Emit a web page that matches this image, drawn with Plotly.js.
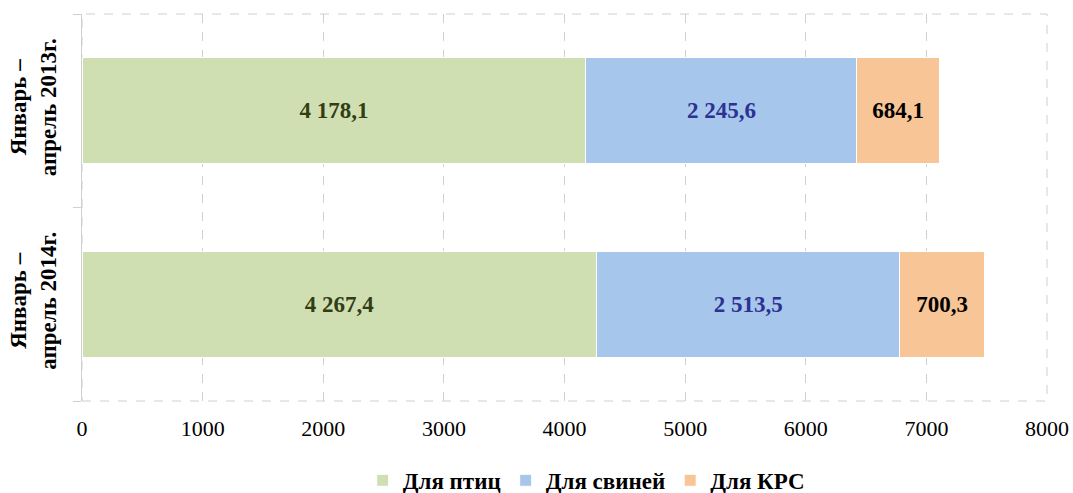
<!DOCTYPE html>
<html><head><meta charset="utf-8">
<script src="https://cdn.plot.ly/plotly-3.0.1.min.js"></script>
<style>body{margin:0;background:#fff}#chart{width:1073px;height:493px}</style>
</head><body><div id="chart"></div>
<script>
const categories = ["Январь –<br>апрель 2014г.", "Январь –<br>апрель 2013г."];
const birds = [4267.4, 4178.1];
const pigs = [2513.5, 2245.6];
const cattle = [700.3, 684.1];
const birdLabels = ["4 267,4", "4 178,1"];
const pigLabels = ["2 513,5", "2 245,6"];
const cattleLabels = ["700,3", "684,1"];
const seriesNames = ["Для птиц", "Для свиней", "Для КРС"];
const xTicks = [0,1000,2000,3000,4000,5000,6000,7000,8000];

const font = "'Liberation Serif', 'Times New Roman', serif";
function tr(vals, labels, name, color, lineColor, txtColor){
  return {type:'bar', orientation:'h', y:categories, x:vals, name:name,
    text:labels, texttemplate:'%{text}', textposition:'inside', insidetextanchor:'middle',
    textangle:0, constraintext:'none',
    textfont:{family:font, size:23, color:txtColor, weight:'bold'},
    marker:{color:color, line:{color:lineColor, width:1}}, width:0.55, hoverinfo:'none'};
}
const data = [
  tr(birds, birdLabels, seriesNames[0], '#d0dfb2', '#ffffff', '#333d14'),
  tr(pigs, pigLabels, seriesNames[1], '#a6c6ec', '#ffffff', '#2e3192'),
  tr(cattle, cattleLabels, seriesNames[2], '#f8c596', '#ffffff', '#000000')
];
const layout = {
  width:1073, height:493, barmode:'stack',
  margin:{l:82, r:26, t:14, b:92, autoexpand:false},
  paper_bgcolor:'#fff', plot_bgcolor:'#fff',
  font:{family:font, size:22, color:'#000'},
  xaxis:{range:[0,8000], tickvals:xTicks, ticktext:xTicks.map(String),
    showgrid:true, gridcolor:'#d0d0d0', griddash:'dash', gridwidth:1,
    zeroline:false, showline:false, ticks:'', tickfont:{family:font,size:22,color:'#000'}, ticklabelstandoff:12},
  yaxis:{type:'category', tickson:'boundaries', ticks:'outside', ticklen:8, tickcolor:'#d0d0d0',
    showline:true, linecolor:'#d0d0d0', linewidth:1, showgrid:false, tickangle:-90, ticklabelstandoff:16,
    tickfont:{family:font, size:23, color:'#000', weight:'bold'}},
  legend:{orientation:'h', x:0.523, xanchor:'center', y:-0.205, yanchor:'middle',
    font:{family:font, size:23, color:'#000', weight:'bold'}, traceorder:'normal', itemwidth:30},
  showlegend:true,
  shapes:[{type:'rect', xref:'paper', yref:'paper', x0:0, x1:1, y0:0, y1:1,
    line:{color:'#d0d0d0', width:1, dash:'dash'}, layer:'below'}]
};
Plotly.newPlot('chart', data, layout, {staticPlot:true});
</script></body></html>
